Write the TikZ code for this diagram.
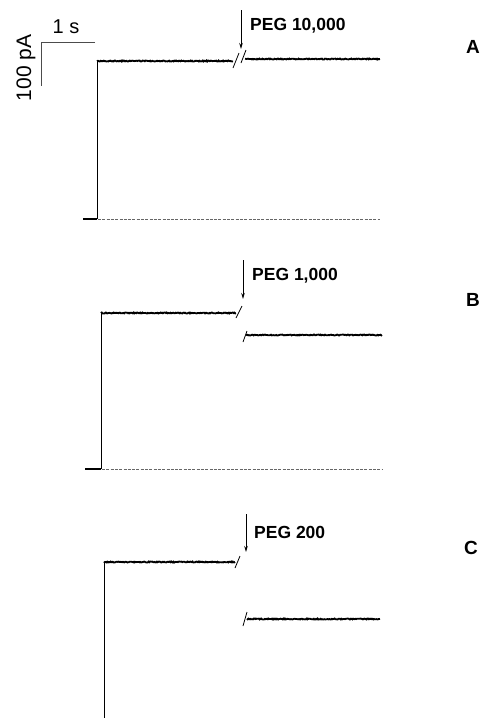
\documentclass[tikz,border=0pt]{standalone}
\usepackage{fontspec}
\setmainfont{Liberation Sans}
\usetikzlibrary{arrows.meta}

\tikzset{
  trace/.style = {line width=1.8pt, black},
  jump/.style = {line width=0.9pt, black},
  breakmark/.style = {line width=0.8pt, black},
  baseline/.style = {line width=0.7pt, gray!80!black, dash pattern=on 3pt off 1.3pt},
  scalebar/.style = {line width=0.9pt, gray!60!black},
  pegarrow/.style = {line width=0.9pt, -{Stealth[length=6pt,width=3.5pt]}},
  peglabel/.style = {anchor=west, inner sep=0pt, font=\fontsize{17.5}{20}\selectfont\bfseries},
  panel/.style = {inner sep=0pt, font=\fontsize{19}{22}\selectfont\bfseries}
}
\newcommand{\noisytrace}[3]{\draw[trace] plot[domain=#1:#2, samples=180] (\x, {#3+0.5*rand});}

\begin{document}
\begin{tikzpicture}[x=1pt, y=-1pt]
\useasboundingbox (0,0) rectangle (481,718);
\pgfmathsetseed{7}

% scale bar
\draw[scalebar] (95,42) -- (41,42) -- (41,86);
\node[inner sep=0pt, font=\fontsize{20}{22}\selectfont] (sec) at (66,27) {1 s};
\node[inner sep=0pt, rotate=90, font=\fontsize{21}{22}\selectfont] (amp) at (26,68) {100 pA};

% trace A
\draw[trace] (83,219) -- (97,219);
\draw[baseline] (98,219) -- (380,219);
\draw[jump] (97,219) -- (97,61);
\noisytrace{97}{233}{61}
\noisytrace{245}{380}{59}
\draw[breakmark] (233,68) -- (239,53);
\draw[breakmark] (241,63) -- (246,50);
\coordinate (A top) at (241,10);
\coordinate (A tip) at (241,49);
\draw[pegarrow] (A top) -- (A tip);
\node[peglabel] (pegA) at (250,26) {PEG 10,000};
\node[panel] (A) at (473,47) {A};

% trace B
\draw[trace] (85,469) -- (101,469);
\draw[baseline] (102,469) -- (382,469);
\draw[jump] (101,469) -- (101,313);
\noisytrace{101}{236}{313}
\noisytrace{246}{382}{335}
\draw[breakmark] (236,318) -- (242,306);
\draw[breakmark] (243,342) -- (247,331);
\coordinate (B top) at (243,260);
\coordinate (B tip) at (243,299);
\draw[pegarrow] (B top) -- (B tip);
\node[peglabel] (pegB) at (252,276) {PEG 1,000};
\node[panel] (B) at (473,300) {B};

% trace C
\draw[jump] (104,718) -- (104,562);
\noisytrace{104}{235}{562}
\noisytrace{247}{380}{619}
\draw[breakmark] (235,568) -- (240,556);
\draw[breakmark] (243,626) -- (247,612);
\coordinate (C top) at (246,514);
\coordinate (C tip) at (246,552);
\draw[pegarrow] (C top) -- (C tip);
\node[peglabel] (pegC) at (254,532) {PEG 200};
\node[panel] (C) at (471,548) {C};
\end{tikzpicture}
\end{document}
